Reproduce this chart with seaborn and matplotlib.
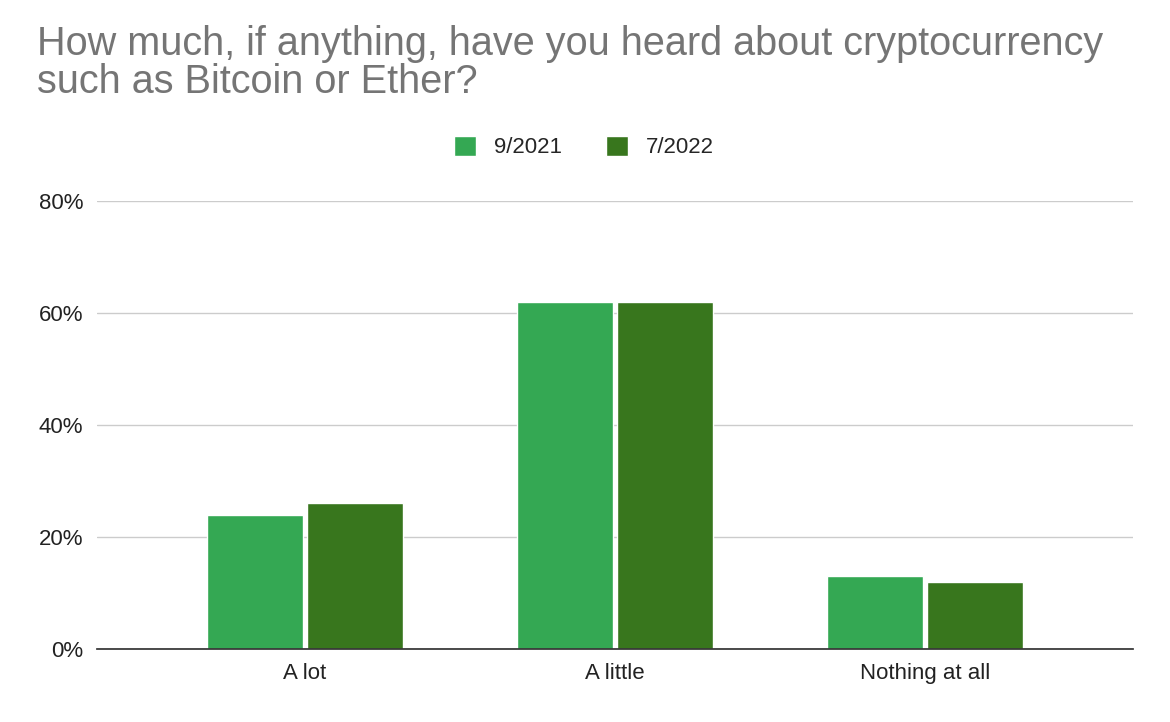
import matplotlib
matplotlib.use("Agg")
import matplotlib.pyplot as plt
import seaborn as sns
import pandas as pd
from matplotlib.ticker import FuncFormatter

categories = ["A lot", "A little", "Nothing at all"]
series_names = ["9/2021", "7/2022"]
values_2021 = [24, 62, 13]
values_2022 = [26, 62, 12]
yticks = [0, 20, 40, 60, 80]

df = pd.DataFrame({
    "cat": categories * 2,
    "series": [series_names[0]] * 3 + [series_names[1]] * 3,
    "val": values_2021 + values_2022,
})

sns.set_theme(style="white")
plt.rcParams['font.family'] = ['Liberation Sans', 'DejaVu Sans']

fig = plt.figure(figsize=(11.7, 7.22), dpi=100)
ax = fig.add_axes([0.083, 0.101, 0.885, 0.621])
sns.barplot(data=df, x="cat", y="val", hue="series", palette=["#34a853", "#38761d"],
            width=0.645, gap=0.04, ax=ax, saturation=1, legend=True)
ax.set_ylim(0, 80)
ax.set_xlim(-0.67, 2.67)
ax.set_yticks(yticks)
ax.yaxis.set_major_formatter(FuncFormatter(lambda v, p: f"{int(v)}%"))
ax.grid(axis="y", color="#cccccc", linewidth=1)
ax.set_axisbelow(True)
for s in ["top", "right", "left"]:
    ax.spines[s].set_visible(False)
ax.spines["bottom"].set_color("#333333")
ax.set_xlabel("")
ax.set_ylabel("")
ax.tick_params(axis="both", labelsize=16, colors="#222222", length=0, pad=10)
leg = ax.legend(loc="center", bbox_to_anchor=(0.47, 1.12), ncol=2, frameon=False,
                fontsize=16, handlelength=1.0, handleheight=1.0, columnspacing=2.0)
fig.text(0.032, 0.86, "How much, if anything, have you heard about cryptocurrency\nsuch as Bitcoin or Ether?",
         fontsize=28.5, color="#757575", ha="left", va="bottom", linespacing=1.0)
fig.savefig("out.png", dpi=100)
